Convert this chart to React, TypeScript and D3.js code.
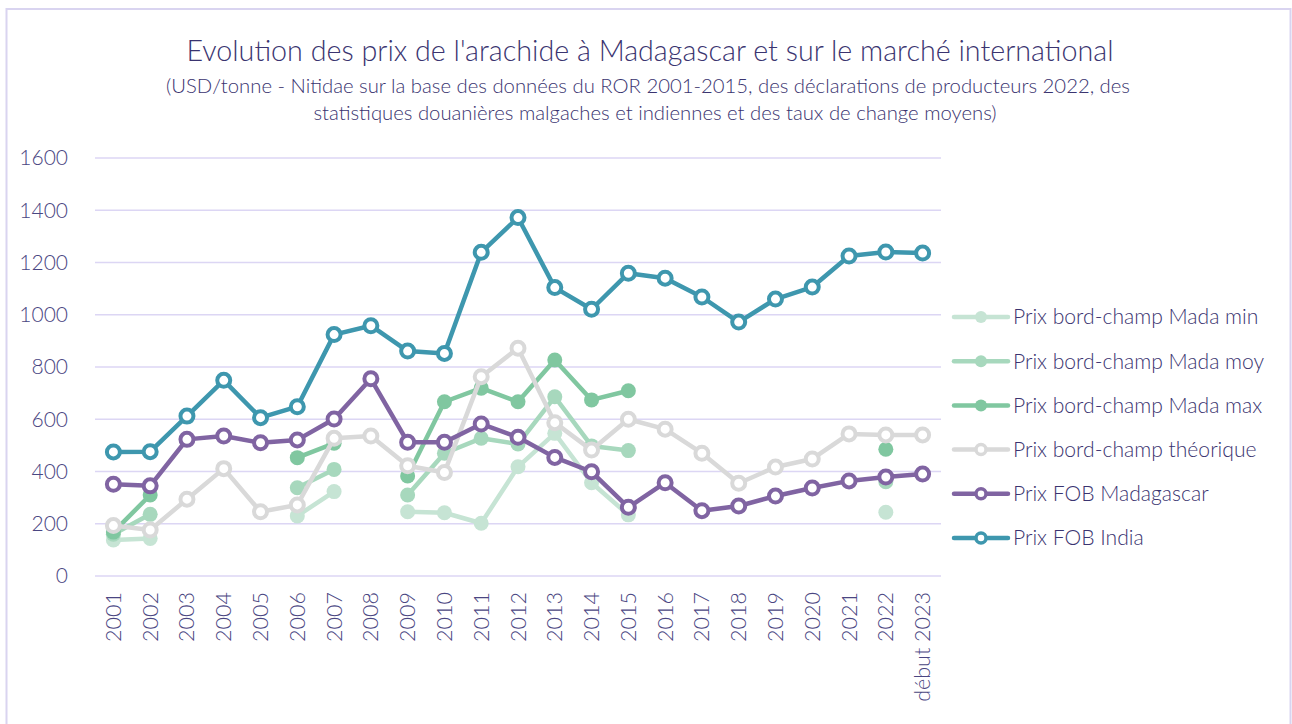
import React from "react";
import * as d3 from "d3";

const categories = ["2001","2002","2003","2004","2005","2006","2007","2008","2009","2010","2011","2012","2013","2014","2015","2016","2017","2018","2019","2020","2021","2022","début 2023"];

type V = number | null;
const madaMin: V[] = [138,144,null,null,null,230,323,null,246,242,202,418,546,357,234,null,null,null,null,null,null,244,null];
const madaMoy: V[] = [160,236,null,null,null,338,408,null,310,470,527,505,686,498,480,null,null,null,null,null,null,361,null];
const madaMax: V[] = [168,310,null,null,null,453,508,null,383,667,719,667,827,674,709,null,null,null,null,null,null,485,null];
const theorique: V[] = [193,176,294,411,246,272,527,536,422,396,763,872,587,482,600,562,470,355,417,448,544,540,540];
const fobMada: V[] = [351,345,523,536,510,521,601,755,512,512,582,531,454,399,263,357,250,268,306,337,364,379,390];
const fobIndia: V[] = [475,476,612,749,606,648,924,958,861,852,1239,1372,1104,1021,1159,1140,1068,972,1060,1106,1225,1240,1236];

const yTicks = [0,200,400,600,800,1000,1200,1400,1600];

const series = [
  { name: "Prix bord-champ Mada min", data: madaMin, color: "#c6e4d4", hollow: false },
  { name: "Prix bord-champ Mada moy", data: madaMoy, color: "#a7d8bd", hollow: false },
  { name: "Prix bord-champ Mada max", data: madaMax, color: "#80c7a0", hollow: false },
  { name: "Prix bord-champ théorique", data: theorique, color: "#d9d9d9", hollow: true },
  { name: "Prix FOB Madagascar", data: fobMada, color: "#8064a2", hollow: true },
  { name: "Prix FOB India", data: fobIndia, color: "#3e97ae", hollow: true },
];

const W = 1292, H = 724;
const plotL = 95, plotR = 941, plotT = 158, plotB = 576;
const textColor = "#3a3470";
const tickColor = "#4a4682";
const font = "Lato, 'Open Sans', sans-serif";

export default function App() {
  const x = d3.scaleBand<string>().domain(categories).range([plotL, plotR]);
  const cx = (c: string) => (x(c) as number) + x.bandwidth() / 2;
  const y = d3.scaleLinear().domain([0, 1600]).range([plotB, plotT]);

  const line = d3.line<[string, V]>()
    .defined(d => d[1] !== null)
    .x(d => cx(d[0]))
    .y(d => y(d[1] as number));

  return (
    <div style={{ position: "fixed", left: 0, top: 0 }}>
      <svg width={W} height={H} style={{ display: "block", background: "#fff" }} fontFamily={font}>
        <rect x={6.5} y={9} width={1284} height={730} fill="#fff" stroke="#d9d4f0" strokeWidth={2} />
        <text x={650} y={61} textAnchor="middle" fontSize={28.7} fontWeight={300} fill={textColor}>
          Evolution des prix de l'arachide à Madagascar et sur le marché international
        </text>
        <text x={648} y={93} textAnchor="middle" fontSize={20.3} fontWeight={300} fill={textColor}>
          (USD/tonne - Nitidae  sur la base des données du ROR 2001-2015, des déclarations de producteurs 2022, des
        </text>
        <text x={655} y={120} textAnchor="middle" fontSize={20.3} fontWeight={300} fill={textColor}>
          statistiques douanières malgaches et indiennes et des taux de change moyens)
        </text>

        {yTicks.map(t => (
          <g key={t}>
            <line x1={plotL} x2={plotR} y1={y(t)} y2={y(t)} stroke="#dcd6f4" strokeWidth={1.5} />
            <text x={68} y={y(t)} dy="0.35em" textAnchor="end" fontSize={21} fontWeight={300} fill={tickColor}>{t}</text>
          </g>
        ))}

        {categories.map(c => (
          <text key={c} transform={`translate(${cx(c)},${plotB + 16}) rotate(-90)`} textAnchor="end" dy="0.35em"
            fontSize={21.5} fontWeight={300} fill={tickColor}>{c}</text>
        ))}

        {series.map(s => {
          const pts: [string, V][] = categories.map((c, i) => [c, s.data[i]]);
          return (
            <g key={s.name}>
              <path d={line(pts) || ""} fill="none" stroke={s.color} strokeWidth={4.5} strokeLinejoin="round" strokeLinecap="round" />
              {pts.filter(p => p[1] !== null).map(p => s.hollow ? (
                <circle key={p[0]} cx={cx(p[0])} cy={y(p[1] as number)} r={6.5} fill="#fff" stroke={s.color} strokeWidth={4} />
              ) : (
                <circle key={p[0]} cx={cx(p[0])} cy={y(p[1] as number)} r={7.5} fill={s.color} />
              ))}
            </g>
          );
        })}

        {series.map((s, i) => {
          const ly = 317 + i * 44.2;
          return (
            <g key={s.name}>
              <line x1={954} x2={1008} y1={ly} y2={ly} stroke={s.color} strokeWidth={4.5} strokeLinecap="round" />
              {s.hollow ? (
                <circle cx={981} cy={ly} r={5} fill="#fff" stroke={s.color} strokeWidth={3.5} />
              ) : (
                <circle cx={981} cy={ly} r={6} fill={s.color} />
              )}
              <text x={1013} y={ly} dy="0.35em" fontSize={21.1} fontWeight={300} fill={textColor}>{s.name}</text>
            </g>
          );
        })}
      </svg>
    </div>
  );
}
